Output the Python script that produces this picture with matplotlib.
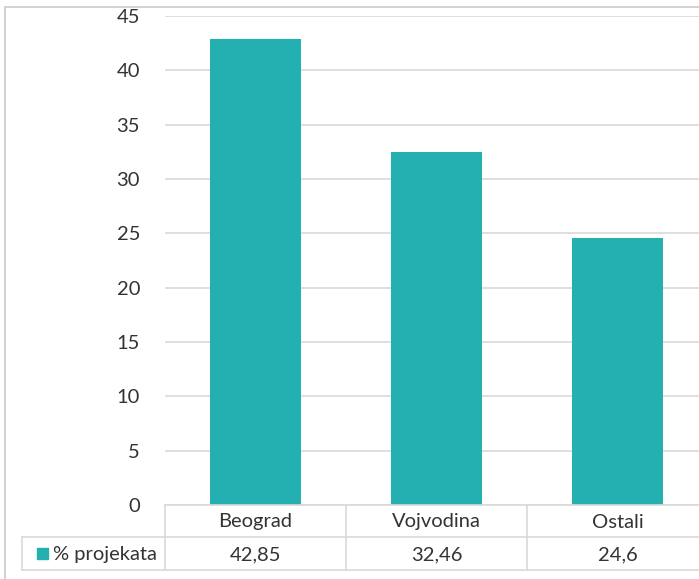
import matplotlib.pyplot as plt
from matplotlib.lines import Line2D
from matplotlib.patches import Rectangle

# data
categories = ['Beograd', 'Vojvodina', 'Ostali']
values = [42.85, 32.46, 24.6]
value_labels = ['42,85', '32,46', '24,6']
series_name = '% projekata'
yticks = [0, 5, 10, 15, 20, 25, 30, 35, 40, 45]

W, H = 699, 579
bar_color = '#24B0B0'
text_color = '#333333'
grid_color = '#D9D9D9'
fs = 14.5

plt.rcParams['font.family'] = ['Lato', 'DejaVu Sans']

fig = plt.figure(figsize=(W / 100, H / 100), dpi=100)

def fx(px):
    return px / W

def fy(py):
    return 1 - py / H

# plot area: x from 165 px, each category column ~181 px wide, y 0 at 505 px, 45 at 16 px
col_w = 181
x0, y0, ytop = 165, 505, 16
ax = fig.add_axes([fx(x0), fy(y0), 3 * col_w / W, (y0 - ytop) / H])
ax.bar(range(len(categories)), values, width=0.5, color=bar_color, zorder=3)
ax.set_xlim(-0.5, 2.5)
ax.set_ylim(0, 45)
ax.set_yticks(yticks)
ax.set_yticklabels([str(t) for t in yticks], fontsize=fs, color=text_color)
ax.tick_params(axis='y', length=0, pad=18)
ax.set_xticks([])
ax.grid(axis='y', color=grid_color, linewidth=1.2, zorder=0)
for s in ax.spines.values():
    s.set_visible(False)

# outer chart border (only left and top visible in the crop)
fig.add_artist(Rectangle((fx(5), fy(590)), fx(720), (590 - 7) / H,
                         transform=fig.transFigure, fill=False,
                         edgecolor='#CFCFCF', linewidth=1.3))

# data table
row1, row2, row3 = 505, 537, 570
line_kw = dict(color=grid_color, linewidth=1.2)
fig.add_artist(Line2D([fx(x0), 1], [fy(row1)] * 2, **line_kw))
fig.add_artist(Line2D([fx(22), 1], [fy(row2)] * 2, **line_kw))
fig.add_artist(Line2D([fx(22), 1], [fy(row3)] * 2, **line_kw))
fig.add_artist(Line2D([fx(22)] * 2, [fy(row2), fy(row3)], **line_kw))
for i in range(len(categories) + 1):
    xp = x0 + i * col_w
    fig.add_artist(Line2D([fx(xp)] * 2, [fy(row1), fy(row3)], **line_kw))

for i, (cat, lab) in enumerate(zip(categories, value_labels)):
    xc = x0 + (i + 0.5) * col_w
    fig.text(fx(xc), fy((row1 + row2) / 2 + 1), cat, ha='center', va='center',
             fontsize=fs, color=text_color)
    fig.text(fx(xc), fy((row2 + row3) / 2 + 1), lab, ha='center', va='center',
             fontsize=fs, color=text_color)

# legend key in table
fig.add_artist(Rectangle((fx(37), fy(559)), 11 / W, 11 / H,
                         transform=fig.transFigure, color=bar_color))
fig.text(fx(53), fy((row2 + row3) / 2 + 1), series_name, ha='left', va='center',
         fontsize=fs, color=text_color)

fig.savefig('out.png', dpi=100)
